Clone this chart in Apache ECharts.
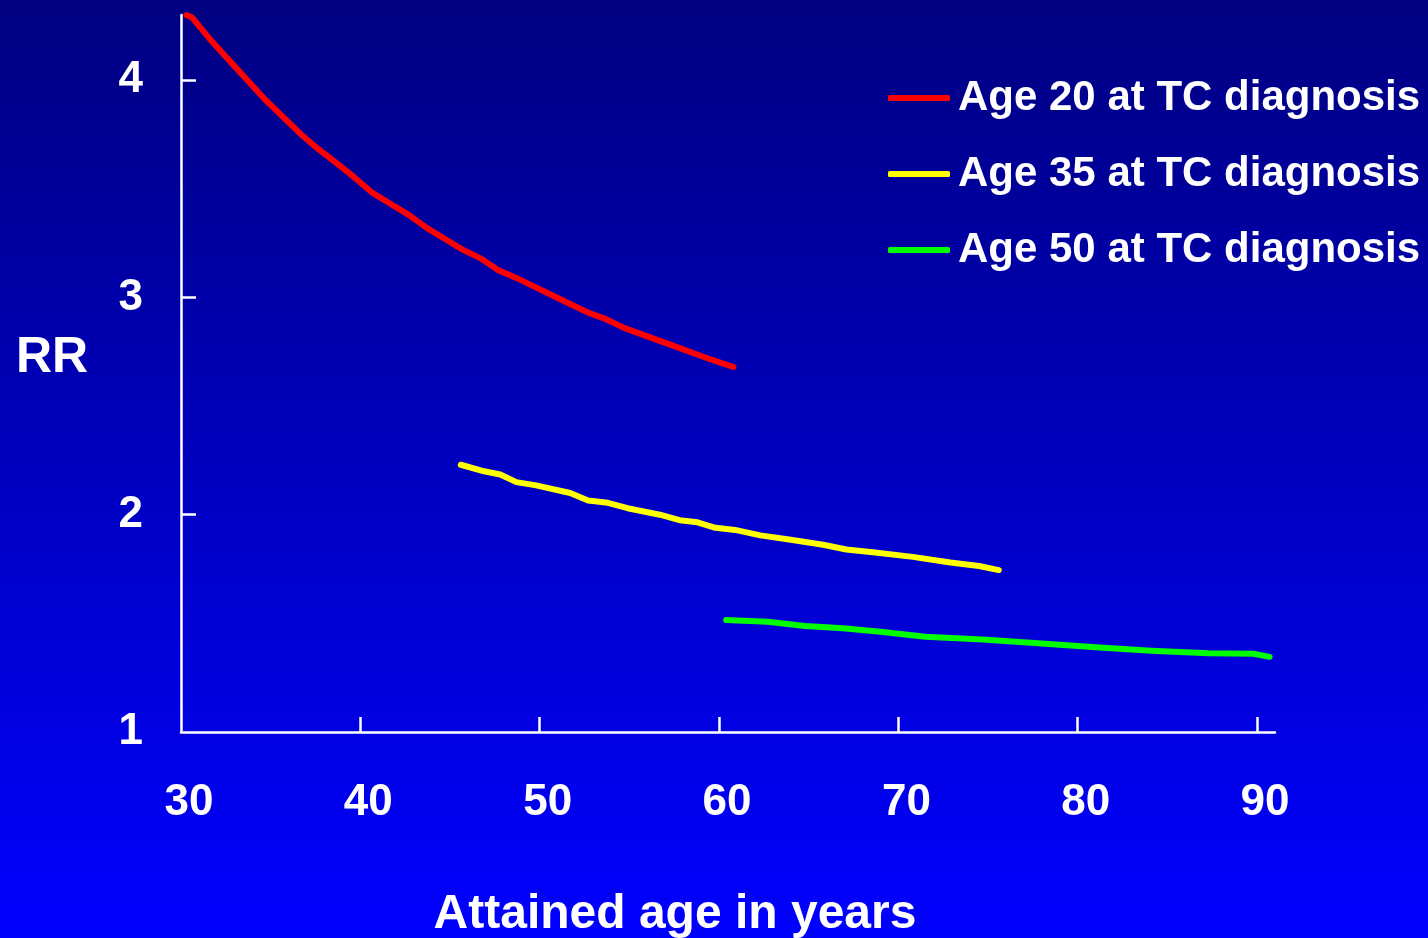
<!DOCTYPE html>
<html>
<head>
<meta charset="utf-8">
<script src="https://cdn.jsdelivr.net/npm/echarts@6/dist/echarts.min.js"></script>
<style>
html,body{margin:0;padding:0;background:#000080;overflow:hidden;}
#chart{width:1428px;height:938px;}
</style>
</head>
<body>
<div id="chart"></div>
<script>
// Tick labels
const xTicks = [30, 40, 50, 60, 70, 80, 90];
const yTicks = [1, 2, 3, 4];

// Series names
const seriesNames = ['Age 20 at TC diagnosis', 'Age 35 at TC diagnosis', 'Age 50 at TC diagnosis'];

// Age 20 at diagnosis (red)
const age20X = [30.3, 30.6, 31.6, 32.7, 33.7, 34.7, 35.7, 36.7, 37.7, 38.8, 39.7, 40.7, 41.7, 42.7, 43.7, 44.7, 45.7, 46.7, 47.7, 48.7, 49.7, 50.7, 51.7, 52.7, 53.7, 54.7, 55.7, 56.7, 57.7, 58.7, 59.7, 60.8];
const age20RR = [4.30, 4.29, 4.19, 4.09, 4.00, 3.91, 3.83, 3.75, 3.68, 3.61, 3.55, 3.48, 3.43, 3.38, 3.32, 3.27, 3.22, 3.18, 3.125, 3.09, 3.05, 3.01, 2.97, 2.93, 2.90, 2.86, 2.83, 2.80, 2.77, 2.74, 2.71, 2.68];

// Age 35 at diagnosis (yellow)
const age35X = [45.6, 46.9, 47.8, 48.7, 49.8, 51.7, 52.7, 53.8, 54.9, 56.7, 57.8, 58.8, 59.8, 60.9, 62.3, 64.0, 65.8, 67.1, 68.7, 70.8, 72.9, 74.5, 75.6];
const age35RR = [2.23, 2.20, 2.185, 2.15, 2.135, 2.10, 2.065, 2.055, 2.03, 2.00, 1.975, 1.965, 1.94, 1.93, 1.905, 1.885, 1.862, 1.84, 1.826, 1.806, 1.78, 1.764, 1.745];

// Age 50 at diagnosis (green)
const age50X = [60.4, 62.7, 64.8, 66.9, 69.0, 71.5, 74.7, 77.8, 81.0, 84.1, 87.3, 89.8, 90.7];
const age50RR = [1.515, 1.507, 1.488, 1.477, 1.461, 1.438, 1.426, 1.408, 1.390, 1.374, 1.362, 1.360, 1.346];

const pairs = (xs, ys) => xs.map((x, i) => [x, ys[i]]);

const font = "'Liberation Sans', Arial, sans-serif";

const chart = echarts.init(document.getElementById('chart'), null, {renderer: 'canvas', width: 1428, height: 938});

const lineSeries = (name, xs, ys, color) => ({
  name: name,
  type: 'line',
  data: pairs(xs, ys),
  symbol: 'none',
  smooth: false,
  clip: false,
  lineStyle: {color: color, width: 6, cap: 'round', join: 'round'},
  itemStyle: {color: color}
});

chart.setOption({
  backgroundColor: {
    type: 'linear', x: 0, y: 0, x2: 0, y2: 1,
    colorStops: [{offset: 0, color: '#000080'}, {offset: 1, color: '#0000FF'}]
  },
  animation: false,
  grid: {left: 181, width: 1094, top: 15, height: 717, containLabel: false, outerBoundsMode: 'none'},
  legend: {
    orient: 'vertical',
    left: 883,
    top: 68,
    itemWidth: 62,
    itemHeight: 6,
    itemGap: 26,
    icon: 'roundRect',
    data: seriesNames,
    textStyle: {
      color: '#FFFFFF',
      fontFamily: font,
      fontWeight: 'bold',
      fontSize: 42,
      lineHeight: 50,
      padding: [0, 0, 0, 3]
    }
  },
  graphic: [{
    type: 'text',
    left: 16,
    top: 333,
    style: {
      text: 'RR',
      fill: '#FFFFFF',
      font: "bold 50px 'Liberation Sans', Arial, sans-serif"
    }
  }],
  xAxis: {
    type: 'value',
    min: 30,
    max: 91,
    interval: 10,
    name: 'Attained age in years',
    nameLocation: 'middle',
    nameGap: 183,
    nameTextStyle: {
      color: '#FFFFFF', fontFamily: font, fontWeight: 'bold', fontSize: 48,
      verticalAlign: 'middle', align: 'center', padding: [0, 106, 0, 0]
    },
    splitLine: {show: false},
    axisLine: {show: true, lineStyle: {color: '#FFFFFF', width: 2.5}},
    axisTick: {show: true, inside: true, length: 15, lineStyle: {color: '#FFFFFF', width: 2.5}, customValues: [40, 50, 60, 70, 80, 90]},
    axisLabel: {
      color: '#FFFFFF', fontFamily: font, fontWeight: 'bold', fontSize: 44,
      margin: 49, padding: [0, 0, 0, 16], customValues: xTicks
    }
  },
  yAxis: {
    type: 'value',
    min: 1,
    max: 4.3,
    interval: 1,
    splitLine: {show: false},
    axisLine: {show: true, lineStyle: {color: '#FFFFFF', width: 2.5}},
    axisTick: {show: true, inside: true, length: 15, lineStyle: {color: '#FFFFFF', width: 2.5}, customValues: [2, 3, 4]},
    axisLabel: {
      color: '#FFFFFF', fontFamily: font, fontWeight: 'bold', fontSize: 44,
      margin: 38, padding: [12, 0, 0, 0], customValues: yTicks
    }
  },
  series: [
    lineSeries(seriesNames[0], age20X, age20RR, '#FF0000'),
    lineSeries(seriesNames[1], age35X, age35RR, '#FFFF00'),
    lineSeries(seriesNames[2], age50X, age50RR, '#00FF00')
  ]
});
</script>
</body>
</html>
